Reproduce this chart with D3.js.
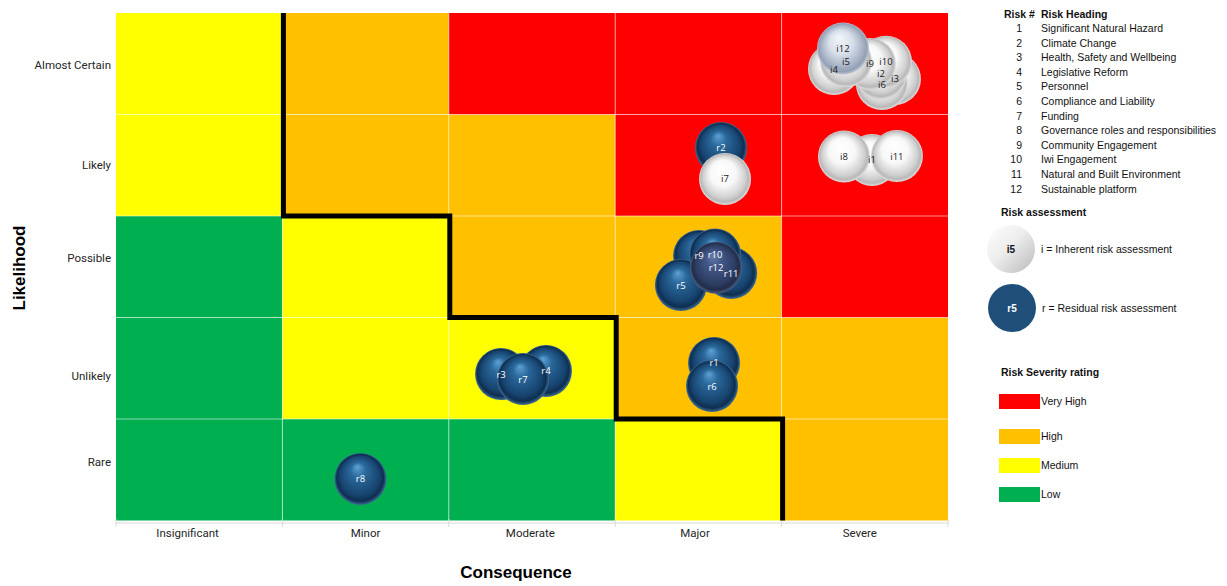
<!DOCTYPE html>
<html><head><meta charset="utf-8">
<script src="https://cdn.jsdelivr.net/npm/d3@7"></script>
<style>body{margin:0;background:#fff}</style>
</head><body><svg id="c" width="1227" height="586"></svg>
<script>
// ---------- DATA ----------
const consequences = ["Insignificant","Minor","Moderate","Major","Severe"];
const consequenceTickPos = [0.43,1.5,2.49,3.48,4.47];
const likelihoods = ["Rare","Unlikely","Possible","Likely","Almost Certain"];
const likelihoodTickPos = [0.58,1.42,2.59,3.5,4.49];
// rows from Rare (bottom) to Almost Certain (top), columns Insignificant..Severe
const severityRows = [
  ["Low","Low","Low","Medium","High"],
  ["Low","Medium","Medium","High","High"],
  ["Low","Medium","High","High","Very High"],
  ["Medium","High","High","Very High","Very High"],
  ["Medium","High","Very High","Very High","Very High"]
];
const severityLevels = ["Very High","High","Medium","Low"];
const severityColors = ["#FF0000","#FFC000","#FFFF00","#00B050"];
const appetiteLine = [[1,5],[1,3],[2,3],[2,2],[3,2],[3,1],[4,1],[4,0]];

const riskNumbers = [1,2,3,4,5,6,7,8,9,10,11,12];
const riskHeadings = ["Significant Natural Hazard","Climate Change","Health, Safety and Wellbeing",
  "Legislative Reform","Personnel","Compliance and Liability","Funding",
  "Governance roles and responsibilities","Community Engagement","Iwi Engagement",
  "Natural and Built Environment","Sustainable platform"];

// residual assessments (drawing order), x = consequence, y = likelihood
const residualRisk = [2,3,4,7,1,6,9,5,11,10,12,8];
const residualX = [3.636,2.314,2.584,2.446,3.594,3.582,3.504,3.395,3.697,3.600,3.606,1.469];
const residualY = [3.670,1.443,1.473,1.394,1.552,1.325,2.606,2.320,2.438,2.620,2.490,0.409];
// inherent assessments (drawing order)
const inherentRisk = [1,8,11,7,3,6,2,10,9,4,5,12];
const inherentX = [4.543,4.375,4.693,3.660,4.681,4.603,4.597,4.627,4.531,4.315,4.387,4.369];
const inherentY = [3.552,3.586,3.591,3.365,4.350,4.300,4.405,4.520,4.498,4.448,4.525,4.650];
const highlightedRisk = 12;

// ---------- CHART ----------
const svg = d3.select("#c");
const x = d3.scaleLinear([0,5],[116,948]);
const y = d3.scaleLinear([0,5],[520.5,13]);
const sevColor = d3.scaleOrdinal(severityLevels, severityColors);
const R = 26;

const defs = svg.append("defs");
function radial(id, fx, fy, stops){
  const g = defs.append("radialGradient").attr("id",id)
    .attr("cx","50%").attr("cy","50%").attr("r","50%").attr("fx",fx).attr("fy",fy);
  stops.forEach(s=>g.append("stop").attr("offset",s[0]).attr("stop-color",s[1]));
}
radial("gI","42%","28%",[["0%","#ffffff"],["50%","#f8f8f8"],["82%","#cfcfcf"],["92%","#b8b8b8"],["100%","#dedede"]]);
radial("gIh","42%","28%",[["0%","#f3f6fa"],["45%","#d9e0ea"],["80%","#a6b2c4"],["92%","#93a0b4"],["100%","#bcc6d4"]]);
radial("gR","44%","26%",[["0%","#5fa2d6"],["30%","#2a689b"],["75%","#174470"],["90%","#0f2e4f"],["100%","#3d6d98"]]);
radial("gRh","44%","26%",[["0%","#6a7ea6"],["30%","#43588a"],["75%","#2d3d62"],["90%","#212d49"],["100%","#4d5f85"]]);
const lg = defs.append("linearGradient").attr("id","gL").attr("x1","0").attr("y1","0").attr("x2","1").attr("y2","1");
lg.append("stop").attr("offset","0%").attr("stop-color","#ffffff");
lg.append("stop").attr("offset","45%").attr("stop-color","#ededed");
lg.append("stop").attr("offset","100%").attr("stop-color","#b9b9b9");

// cells
const cells = [];
severityRows.forEach((row,r)=>row.forEach((s,c)=>cells.push({r,c,s})));
svg.append("g").selectAll("rect").data(cells).join("rect")
  .attr("x",d=>x(d.c)).attr("y",d=>y(d.r+1))
  .attr("width",d=>x(d.c+1)-x(d.c)).attr("height",d=>y(d.r)-y(d.r+1))
  .attr("fill",d=>sevColor(d.s));

// grid lines
const gl = svg.append("g").attr("stroke","#ffffff").attr("stroke-opacity",0.55).attr("stroke-width",1);
d3.range(1,5).forEach(i=>{
  gl.append("line").attr("x1",x(i)).attr("x2",x(i)).attr("y1",y(5)).attr("y2",y(0));
  gl.append("line").attr("x1",x(0)).attr("x2",x(5)).attr("y1",y(i)).attr("y2",y(i));
});

// x axis line & ticks
svg.append("line").attr("x1",x(0)).attr("x2",x(5)).attr("y1",523).attr("y2",523).attr("stroke","#d9d9d9");
svg.append("g").selectAll("line").data(d3.range(0,6)).join("line")
  .attr("x1",d=>x(d)).attr("x2",d=>x(d)).attr("y1",519).attr("y2",527).attr("stroke","#d9d9d9");

// appetite line
svg.append("path").attr("d",d3.line().x(d=>x(d[0])+1).y(d=>y(d[1]))(appetiteLine))
  .attr("fill","none").attr("stroke","#000").attr("stroke-width",5).attr("stroke-linejoin","miter");

// tick labels
const tickFont = "Roboto, 'Liberation Sans', sans-serif";
svg.append("g").selectAll("text").data(consequences).join("text")
  .attr("x",(d,i)=>x(consequenceTickPos[i])).attr("y",537)
  .attr("text-anchor","middle").attr("font-family",tickFont).attr("font-size",11.5).attr("fill","#262626")
  .text(d=>d);
svg.append("g").selectAll("text").data(likelihoods).join("text")
  .attr("x",111).attr("y",(d,i)=>y(likelihoodTickPos[i])+4)
  .attr("text-anchor","end").attr("font-family",tickFont).attr("font-size",11.5).attr("fill","#262626")
  .text(d=>d);

// axis titles
svg.append("text").attr("x",516).attr("y",578).attr("text-anchor","middle")
  .attr("font-family","'Liberation Sans', Arial, sans-serif").attr("font-weight","bold").attr("font-size",17)
  .text("Consequence");
svg.append("text").attr("transform","translate(25,268) rotate(-90)").attr("text-anchor","middle")
  .attr("font-family","'Liberation Sans', Arial, sans-serif").attr("font-weight","bold").attr("font-size",17)
  .text("Likelihood");

// bubbles
function drawBubbles(ids, xs, ys, normal, hi){
  const data = ids.map((id,i)=>({id, x:xs[i], y:ys[i]}));
  svg.append("g").selectAll("circle").data(data).join("circle")
    .attr("cx",d=>x(d.x)).attr("cy",d=>y(d.y)).attr("r",R)
    .attr("fill",d=>`url(#${d.id===highlightedRisk?hi:normal})`);
  return data;
}
const resData = drawBubbles(residualRisk,residualX,residualY,"gR","gRh");
const inhData = drawBubbles(inherentRisk,inherentX,inherentY,"gI","gIh");
const lblFont = "'Open Sans', 'Liberation Sans', sans-serif";
svg.append("g").selectAll("text").data(resData).join("text")
  .attr("x",d=>x(d.x)).attr("y",d=>y(d.y)+3.5).attr("text-anchor","middle")
  .attr("font-family",lblFont).attr("font-size",9.5).attr("fill","#fff").text(d=>"r"+d.id);
svg.append("g").selectAll("text").data(inhData).join("text")
  .attr("x",d=>x(d.x)).attr("y",d=>y(d.y)+3.5).attr("text-anchor","middle")
  .attr("font-family",lblFont).attr("font-size",9.5).attr("fill","#1a1a1a").text(d=>"i"+d.id);

// ---------- LEGEND ----------
const lf = "'Liberation Sans', Arial, sans-serif";
const L = svg.append("g").attr("font-family",lf).attr("font-size",10.5).attr("fill","#111");
L.append("text").attr("x",1004).attr("y",18).attr("font-weight","bold").text("Risk #");
L.append("text").attr("x",1041).attr("y",18).attr("font-weight","bold").text("Risk Heading");
L.append("g").selectAll("text").data(riskNumbers).join("text")
  .attr("x",1022).attr("y",(d,i)=>32+i*14.6).attr("text-anchor","end").text(d=>d);
L.append("g").selectAll("text").data(riskHeadings).join("text")
  .attr("x",1041).attr("y",(d,i)=>32+i*14.6).text(d=>d);

L.append("text").attr("x",1001).attr("y",216).attr("font-weight","bold").text("Risk assessment");
L.append("circle").attr("cx",1011).attr("cy",249).attr("r",24).attr("fill","url(#gL)");
L.append("text").attr("x",1011).attr("y",253).attr("text-anchor","middle").attr("font-weight","bold").attr("font-size",10).text("i5");
L.append("text").attr("x",1041).attr("y",253).text("i = Inherent risk assessment");
L.append("circle").attr("cx",1012).attr("cy",308).attr("r",24).attr("fill","#1f4e79");
L.append("text").attr("x",1012).attr("y",312).attr("text-anchor","middle").attr("font-weight","bold").attr("font-size",10).attr("fill","#fff").text("r5");
L.append("text").attr("x",1042).attr("y",312).text("r = Residual risk assessment");

L.append("text").attr("x",1001).attr("y",376).attr("font-weight","bold").text("Risk Severity rating");
const swY = [394,429,458,487];
L.append("g").selectAll("rect").data(severityLevels).join("rect")
  .attr("x",999).attr("y",(d,i)=>swY[i]).attr("width",41).attr("height",15).attr("fill",d=>sevColor(d));
L.append("g").selectAll("text").data(severityLevels).join("text")
  .attr("x",1041).attr("y",(d,i)=>swY[i]+11).text(d=>d);
</script></body></html>
